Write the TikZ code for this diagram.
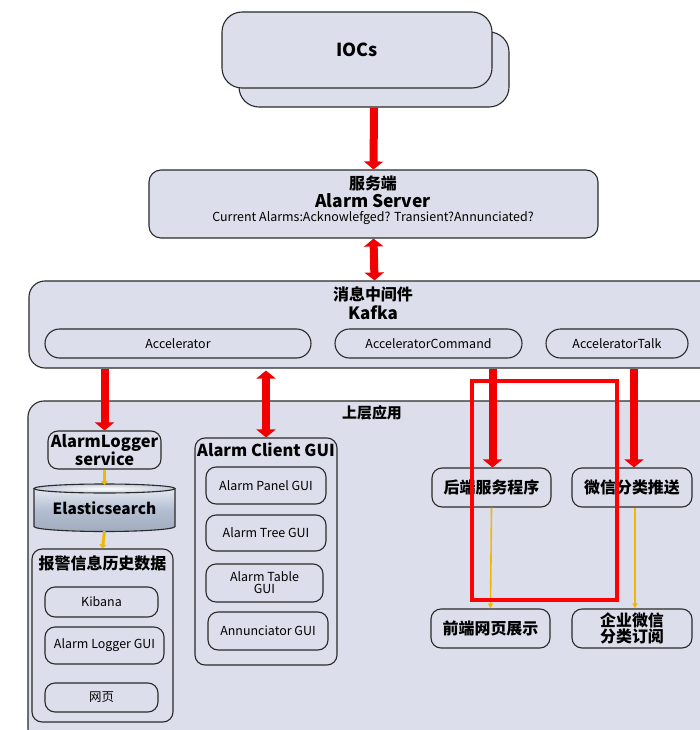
\documentclass[tikz,border=0pt]{standalone}
\usepackage{fontspec}
\setmainfont{Noto Sans CJK SC}
\usetikzlibrary{arrows.meta,calc}
\definecolor{boxfill}{HTML}{DCDFEB}
\definecolor{boxline}{HTML}{2A2A2A}
\definecolor{redarr}{HTML}{F00000}
\definecolor{yelarr}{HTML}{F2B705}
\definecolor{esbody}{HTML}{B3BED2}
\definecolor{estop}{HTML}{E4E9F1}
\tikzset{
  box/.style={draw=boxline, fill=boxfill, line width=1.1bp, rounded corners=#1, inner sep=0pt, align=center},
  box/.default=10bp,
  plain/.style={inner sep=0pt, align=center},
  redarrow/.style={draw=redarr, line width=8bp, -{Triangle[length=8bp,width=19bp]}},
  reddouble/.style={draw=redarr, line width=8bp, {Triangle[length=8bp,width=19bp]}-{Triangle[length=8bp,width=19bp]}},
  yelarrow/.style={draw=yelarr, line width=1.6bp, -{Triangle[length=5bp,width=5bp]}},
  yelthick/.style={draw=yelarr, line width=3bp, -{Triangle[length=4bp,width=7bp]}},
  bigt/.style={font=\bfseries\fontsize{16}{18}\selectfont},
  smallt/.style={font=\fontsize{12.5}{14}\selectfont},
}
\begin{document}
\begin{tikzpicture}[x=1bp,y=-1bp]
\clip (0,0) rectangle (700,730);
\fill[white] (0,0) rectangle (700,730);
% IOCs
\node[box=20bp, minimum width=270bp, minimum height=75bp] (iocsback) at (374,69.5) {};
\node[box=20bp, minimum width=270bp, minimum height=76bp, font=\bfseries\fontsize{18}{20}\selectfont] (iocs) at (357,50) {IOCs};
% server
\node[box=12bp, minimum width=449bp, minimum height=68bp] (server) at (373.5,204) {};
\node[plain, bigt] (srvcn) at (373,183) {服务端};
\node[plain, font=\bfseries\fontsize{17.5}{19}\selectfont] (srvname) at (373,201) {Alarm Server};
\node[plain, font=\fontsize{12.5}{14}\selectfont] (srvdesc) at (373,218.5) {Current Alarms:Acknowlefged? Transient?Annunciated?};
% kafka
\node[box=16bp, minimum width=691bp, minimum height=87bp] (kafka) at (374.5,324.5) {};
\node[plain, bigt] (kafkacn) at (373,294) {消息中间件};
\node[plain, font=\bfseries\fontsize{17}{19}\selectfont] (kafkaname) at (373,313) {Kafka};
\node[box=14.5bp, minimum width=266bp, minimum height=29bp, smallt] (accel) at (178,343.5) {Accelerator};
\node[box=14.5bp, minimum width=187bp, minimum height=29bp, smallt] (acccmd) at (428.5,343.5) {AcceleratorCommand};
\node[box=14.5bp, minimum width=142bp, minimum height=29bp, smallt] (acctalk) at (617,343.5) {AcceleratorTalk};
% upper application
\node[box=16bp, minimum width=692bp, minimum height=344bp] (upper) at (374,573) {};
\node[plain, font=\bfseries\fontsize{15}{17}\selectfont] (uppertitle) at (372,413) {上层应用};
% logger
\node[box=10bp, minimum width=113bp, minimum height=38bp, font=\bfseries\fontsize{16.5}{16.5}\selectfont] (logger) at (104.5,450) {AlarmLogger\\[-0.5bp]service};
% elasticsearch cylinder
\shade[top color=estop, bottom color=esbody!90!black, middle color=esbody]
  (34,488.5) -- (34,526.5) arc[start angle=180,end angle=360,x radius=70.5bp,y radius=5bp] -- (175,488.5) -- cycle;
\draw[boxline, line width=1.1bp] (34,488.5) -- (34,526.5) arc[start angle=180,end angle=360,x radius=70.5bp,y radius=5bp] -- (175,488.5);
\shade[inner color=white, outer color=esbody!80!white, draw=boxline, line width=1.1bp] (104.5,488.5) ellipse[x radius=70.5bp, y radius=4.5bp];
\node[plain, minimum width=141bp, minimum height=46bp, font=\bfseries\fontsize{15.5}{17}\selectfont] (es) at (104.5,508) {Elasticsearch};
% history
\node[box=10bp, minimum width=141bp, minimum height=173bp] (history) at (102.5,635.5) {};
\node[plain, bigt] (histtitle) at (102.5,563) {报警信息历史数据};
\node[box=10bp, minimum width=113bp, minimum height=30bp, smallt] (kibana) at (101.5,602) {Kibana};
\node[box=10bp, minimum width=119bp, minimum height=37bp, smallt] (alggui) at (104.5,645.5) {Alarm Logger GUI};
\node[box=10bp, minimum width=113bp, minimum height=29bp, smallt] (web) at (101.5,697.5) {网页};
% client
\node[box=10bp, minimum width=142bp, minimum height=227bp] (client) at (266,551.5) {};
\node[plain, font=\bfseries\fontsize{16.5}{18}\selectfont] (clienttitle) at (266,450) {Alarm Client GUI};
\node[box=10bp, minimum width=120bp, minimum height=37bp, smallt] (panel) at (266,485.5) {Alarm Panel GUI};
\node[box=10bp, minimum width=120bp, minimum height=36bp, smallt] (tree) at (266,533) {Alarm Tree GUI};
\node[box=10bp, minimum width=117bp, minimum height=38bp, smallt] (table) at (264.5,583) {Alarm Table\\[-2bp]GUI};
\node[box=10bp, minimum width=120bp, minimum height=38bp, smallt] (ann) at (268,631) {Annunciator GUI};
% right side
\node[box=10bp, minimum width=119bp, minimum height=39bp, bigt] (backend) at (491.5,487.5) {后端服务程序};
\node[box=10bp, minimum width=120bp, minimum height=39bp, bigt] (wechat) at (632,487.5) {微信分类推送};
\node[box=10bp, minimum width=119bp, minimum height=39bp, bigt] (front) at (490.5,628.5) {前端网页展示};
\node[box=10bp, minimum width=120bp, minimum height=39bp, font=\bfseries\fontsize{16}{16}\selectfont] (qywx) at (632,628.5) {企业微信\\分类订阅};
% red arrows
\draw[redarrow] (iocsback.south) -- (server.north);
\draw[reddouble] (server.south) -- (kafka.north);
\draw[redarrow] (kafka.south -| logger.north) -- (logger.north);
\draw[reddouble] ($(kafka.south -| client.north)+(0,2)$) -- (client.north);
\draw[redarrow] ($(kafka.south -| backend.north)+(1,0)$) -- ($(backend.north)+(1,0)$);
\draw[redarrow] ($(kafka.south -| wechat.north)+(2,0)$) -- ($(wechat.north)+(2,0)$);
% yellow arrows
\draw[yelthick] (logger.south) -- (es.north);
\draw[yelthick] (es.south) -- (history.north);
\draw[yelarrow] (backend.south) -- (front.north);
\draw[yelarrow] ($(wechat.south)+(3,0)$) -- ($(qywx.north)+(3,0)$);
% highlight rectangle
\draw[red, line width=4bp] (472,381) rectangle (617,600);
\end{tikzpicture}
\end{document}
